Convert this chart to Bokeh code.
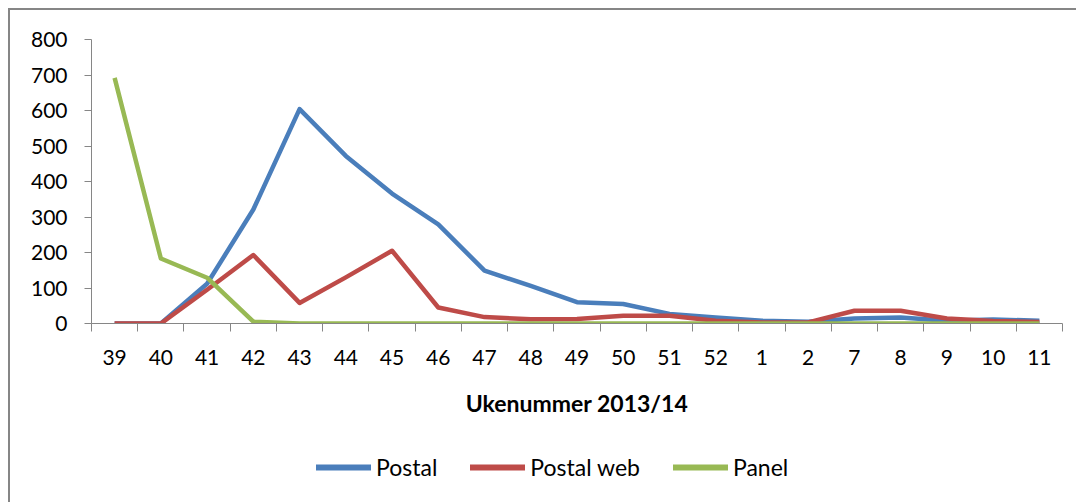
import numpy as np
from bokeh.plotting import figure
from bokeh.layouts import column
from bokeh.models import (Range1d, LinearAxis, FixedTicker, Legend, LegendItem)
from bokeh.embed import file_html
from bokeh.resources import INLINE

weeks = ["39", "40", "41", "42", "43", "44", "45", "46", "47", "48", "49",
         "50", "51", "52", "1", "2", "7", "8", "9", "10", "11"]
postal = [0, 0, 112, 321, 604, 472, 366, 279, 149, 106, 60,
          55, 27, 17, 8, 5, 14, 17, 8, 11, 8]
postal_web = [0, 0, 95, 193, 58, 130, 205, 45, 18, 12, 13,
              22, 22, 8, 3, 3, 36, 36, 14, 7, 4]
panel = [692, 183, 129, 5, 0, 0, 0, 0, 0, 0, 0,
         0, 0, 0, 0, 0, 0, 0, 0, 0, 0]
y_ticks = [0, 100, 200, 300, 400, 500, 600, 700, 800]
series_names = ["Postal", "Postal web", "Panel"]
colors = ["#4A7EBB", "#BE4B48", "#98B954"]
series = [postal, postal_web, panel]

FONT = "Lato"
GRAY = "#868686"

n = len(weeks)
xs = np.arange(n) + 0.5

p = figure(width=1068, height=413, output_backend="svg", toolbar_location=None,
           x_range=Range1d(0, n), y_range=Range1d(0, 800),
           x_axis_location=None, y_axis_location=None,
           min_border_left=81, min_border_top=29, min_border_right=16,
           min_border_bottom=100)
p.styles = {"border-left": "2px solid #868686", "border-top": "2px solid #868686",
            "margin-left": "8px", "margin-top": "8px"}
p.outline_line_color = None
p.xgrid.visible = False
p.ygrid.visible = False
p.background_fill_color = "white"
p.border_fill_color = "white"

yaxis = LinearAxis(ticker=FixedTicker(ticks=y_ticks, minor_ticks=[]))
yaxis.axis_line_color = GRAY
yaxis.major_tick_line_color = GRAY
yaxis.major_tick_out = 7
yaxis.major_tick_in = 0
yaxis.minor_tick_line_color = None
yaxis.major_label_text_font = FONT
yaxis.major_label_text_font_size = "21px"
yaxis.major_label_text_color = "black"
yaxis.major_label_standoff = 17
p.add_layout(yaxis, "left")

xaxis = LinearAxis(ticker=FixedTicker(ticks=list(xs), minor_ticks=list(range(n + 1))))
xaxis.major_label_overrides = {float(x): w for x, w in zip(xs, weeks)}
xaxis.axis_line_color = GRAY
xaxis.major_tick_line_color = None
xaxis.major_tick_out = 0
xaxis.major_tick_in = 0
xaxis.minor_tick_line_color = GRAY
xaxis.minor_tick_out = 8
xaxis.minor_tick_in = 0
xaxis.major_label_text_font = FONT
xaxis.major_label_text_font_size = "21px"
xaxis.major_label_text_color = "black"
xaxis.major_label_standoff = 18
xaxis.axis_label = "Ukenummer 2013/14"
xaxis.axis_label_text_font = FONT
xaxis.axis_label_text_font_style = "bold"
xaxis.axis_label_text_font_size = "23px"
xaxis.axis_label_text_color = "black"
xaxis.axis_label_standoff = 21
p.add_layout(xaxis, "below")

for vals, c in zip(series, colors):
    p.line(xs, vals, line_color=c, line_width=4.5, line_join="round")

# legend strip below the chart
p2 = figure(width=1068, height=81, output_backend="svg", toolbar_location=None,
            x_range=Range1d(0, n), y_range=Range1d(0, 800),
            x_axis_location=None, y_axis_location=None,
            min_border_left=0, min_border_top=0, min_border_right=0,
            min_border_bottom=0)
p2.styles = {"border-left": "2px solid #868686", "margin-left": "8px"}
p2.outline_line_color = None
p2.xgrid.visible = False
p2.ygrid.visible = False
p2.border_fill_color = "white"

items = []
for name, vals, c in zip(series_names, series, colors):
    r = p2.line(xs, vals, line_color=c, line_width=6, line_cap="round", visible=False)
    items.append(LegendItem(label=name, renderers=[r]))

legend = Legend(items=items, orientation="horizontal")
legend.label_text_font = FONT
legend.label_text_font_size = "23px"
legend.label_text_color = "black"
legend.glyph_width = 55
legend.label_standoff = 5
legend.spacing = 33
legend.border_line_color = None
legend.background_fill_alpha = 0
legend.inactive_fill_alpha = 0
legend.padding = 0
legend.margin = 0
legend.location = (225, 21)
p2.add_layout(legend, "center")

layout = column(p, p2, spacing=0)
open("out.html", "w").write(file_html(layout, INLINE))
